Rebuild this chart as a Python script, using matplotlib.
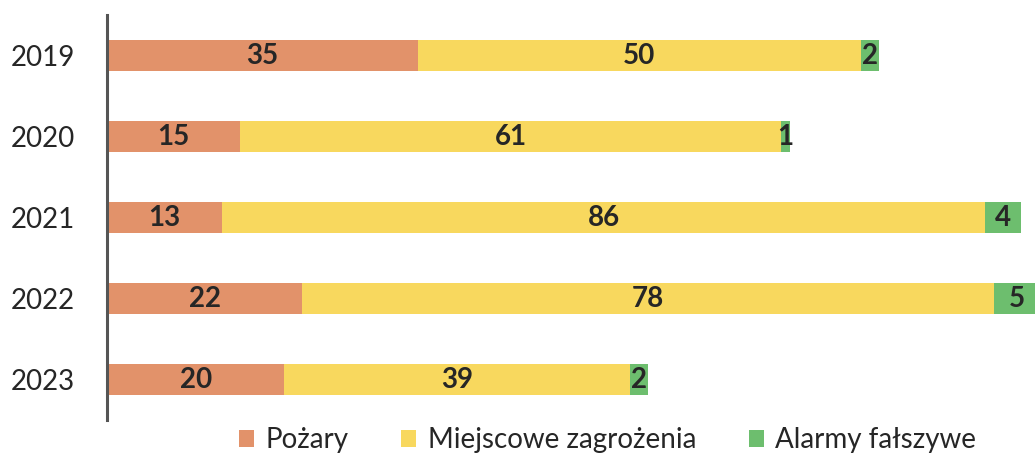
import matplotlib.pyplot as plt
import numpy as np

years = ["2019", "2020", "2021", "2022", "2023"]
pozary = [35, 15, 13, 22, 20]
miejscowe = [50, 61, 86, 78, 39]
alarmy = [2, 1, 4, 5, 2]

series = [
    ("Pożary", pozary, "#E2926A"),
    ("Miejscowe zagrożenia", miejscowe, "#F8D85E"),
    ("Alarmy fałszywe", alarmy, "#6DBE6E"),
]

plt.rcParams["font.family"] = ["Lato", "DejaVu Sans"]

fig = plt.figure(figsize=(10.35, 4.55), dpi=100)
ax = fig.add_axes([107 / 1035, 1 - 420 / 455, 1 - 107 / 1035, 405 / 455])

y = np.arange(len(years))
left = np.zeros(len(years))
for name, vals, col in series:
    vals = np.array(vals)
    ax.barh(y, vals, left=left, height=0.38, color=col, label=name)
    for yi, l, v in zip(y, left, vals):
        ax.text(l + v / 2, yi, str(v), ha="center", va="center",
                fontsize=20, fontweight="bold", color="#262626")
    left = left + vals

ax.set_xlim(0, 104.6)
ax.set_ylim(4.5, -0.5)
ax.set_yticks(y)
ax.set_yticklabels(years, fontsize=20, color="#262626")
ax.tick_params(axis="y", length=0, pad=23)
ax.set_xticks([])
for s in ["top", "right", "bottom"]:
    ax.spines[s].set_visible(False)
ax.spines["left"].set_color("#555555")
ax.spines["left"].set_linewidth(2.2)

fig.legend(loc="center", bbox_to_anchor=(0.587, 0.033), ncol=3, frameon=False,
           fontsize=20, handlelength=0.55, handleheight=0.55, columnspacing=1.9,
           handletextpad=0.4, labelcolor="#262626")

fig.savefig("out.png", dpi=100)
